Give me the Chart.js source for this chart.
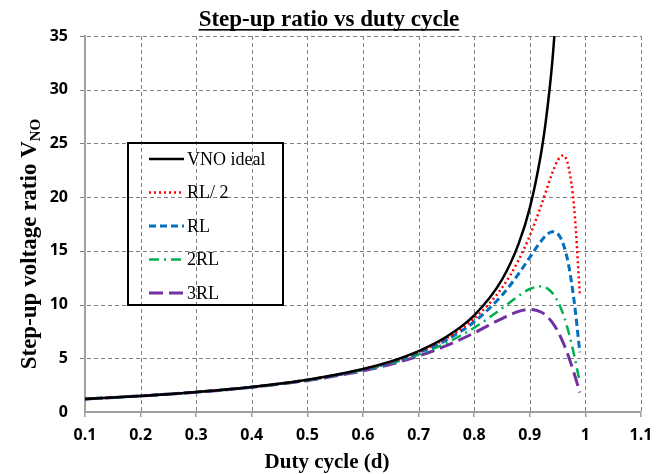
<!DOCTYPE html>
<html>
<head>
<meta charset="utf-8">
<script src="https://cdn.jsdelivr.net/npm/chart.js@4"></script>
<style>
  html, body { margin: 0; padding: 0; background: #fff; }
</style>
</head>
<body>
<canvas id="ratioChart" width="665" height="474"></canvas>
<script>
  // duty cycle values where the curves were read
  const dutyCycle = [0.1, 0.2, 0.3, 0.4, 0.5, 0.6, 0.65, 0.7, 0.75, 0.8, 0.85, 0.88, 0.9, 0.92, 0.93, 0.94, 0.95, 0.96, 0.97, 0.98, 0.99];

  // step-up ratio (ideal leaves the top of the plot near d = 0.945)
  const vnoIdeal = [1.22, 1.50, 1.86, 2.33, 3.00, 4.00, 4.71, 5.67, 7.00, 9.00, 12.33, 15.67, 19.00, 24.00, 27.57, 32.33, 39.00];
  const rlHalf = [1.22, 1.50, 1.85, 2.33, 2.99, 3.97, 4.67, 5.59, 6.85, 8.69, 11.56, 14.15, 16.41, 19.16, 20.68, 22.18, 23.41, 23.88, 22.73, 18.90, 10.95];
  const rlFull = [1.22, 1.50, 1.85, 2.32, 2.98, 3.94, 4.62, 5.51, 6.71, 8.40, 10.87, 12.87, 14.40, 15.89, 16.48, 16.79, 16.61, 15.67, 13.62, 10.22, 5.55];
  const rlDouble = [1.22, 1.49, 1.85, 2.31, 2.95, 3.89, 4.53, 5.35, 6.43, 7.84, 9.65, 10.82, 11.45, 11.70, 11.55, 11.11, 10.32, 9.10, 7.40, 5.24, 2.75];
  const rlTriple = [1.22, 1.49, 1.84, 2.30, 2.93, 3.83, 4.44, 5.21, 6.17, 7.36, 8.70, 9.37, 9.55, 9.31, 8.94, 8.37, 7.55, 6.46, 5.12, 3.55, 1.82];

  const seriesNames = ['VNO ideal', 'RL/ 2', 'RL', '2RL', '3RL'];
  const xTicks = [0.1, 0.2, 0.3, 0.4, 0.5, 0.6, 0.7, 0.8, 0.9, 1, 1.1];
  const yTicks = [0, 5, 10, 15, 20, 25, 30, 35];

  const pts = (vals) => vals.map((v, i) => ({ x: dutyCycle[i], y: v }));

  const lineBase = {
    pointRadius: 0,
    fill: false,
    cubicInterpolationMode: 'monotone'
  };

  const datasets = [
    { ...lineBase, label: seriesNames[0], data: pts(vnoIdeal), borderColor: '#000000', borderWidth: 2.5, borderDash: [] },
    { ...lineBase, label: seriesNames[1], data: pts(rlHalf), borderColor: '#ff0000', borderWidth: 2.5, borderDash: [2, 3] },
    { ...lineBase, label: seriesNames[2], data: pts(rlFull), borderColor: '#0070c0', borderWidth: 3, borderDash: [7, 4] },
    { ...lineBase, label: seriesNames[3], data: pts(rlDouble), borderColor: '#00b050', borderWidth: 2.5, borderDash: [10, 5, 2, 5] },
    { ...lineBase, label: seriesNames[4], data: pts(rlTriple), borderColor: '#7030a0', borderWidth: 3, borderDash: [14, 6] }
  ];

  // dashed grid, drawn from the scales' tick positions
  const dashedGrid = {
    id: 'dashedGrid',
    beforeDatasetsDraw(chart) {
      const { ctx, chartArea: a, scales: { x, y } } = chart;
      ctx.save();
      ctx.strokeStyle = '#7f7f7f';
      ctx.lineWidth = 1;
      ctx.setLineDash([4, 3]);
      xTicks.slice(1).forEach(v => {
        const px = Math.round(x.getPixelForValue(v)) + 0.5;
        ctx.beginPath();
        ctx.moveTo(px, a.top);
        ctx.lineTo(px, a.bottom);
        ctx.stroke();
      });
      yTicks.slice(1).forEach(v => {
        const py = Math.round(y.getPixelForValue(v)) + 0.5;
        ctx.beginPath();
        ctx.moveTo(a.left - 5, py);
        ctx.lineTo(a.right, py);
        ctx.stroke();
      });
      ctx.restore();
    }
  };

  // titles and the boxed legend inside the plot
  const titlesPlugin = {
    id: 'titlesPlugin',
    afterDraw(chart) {
      const ctx = chart.ctx;
      ctx.save();
      ctx.fillStyle = '#000';

      // main title, underlined
      const title = 'Step-up ratio vs duty cycle';
      ctx.font = 'bold 23px "Liberation Serif"';
      ctx.textAlign = 'center';
      ctx.textBaseline = 'alphabetic';
      ctx.fillText(title, 329, 26);
      const tw = ctx.measureText(title).width;
      ctx.fillRect(329 - tw / 2, 29, tw, 1.6);

      // x axis title
      ctx.font = 'bold 21px "Liberation Serif"';
      ctx.fillText('Duty cycle (d)', 327, 468);

      // y axis title with subscript
      ctx.save();
      ctx.translate(36, 244);
      ctx.rotate(-Math.PI / 2);
      const mainTxt = 'Step-up voltage ratio V';
      ctx.font = 'bold 23px "Liberation Serif"';
      const mw = ctx.measureText(mainTxt).width;
      ctx.font = 'bold 15px "Liberation Serif"';
      const sw = ctx.measureText('NO').width;
      const start = -(mw + sw) / 2;
      ctx.textAlign = 'left';
      ctx.font = 'bold 23px "Liberation Serif"';
      ctx.fillText(mainTxt, start, 0);
      ctx.font = 'bold 15px "Liberation Serif"';
      ctx.fillText('NO', start + mw, 4);
      ctx.restore();

      // legend box
      ctx.lineWidth = 2;
      ctx.strokeStyle = '#000';
      ctx.strokeRect(128, 143, 155, 162);
      ctx.font = '18px "Liberation Serif"';
      ctx.textAlign = 'left';
      ctx.textBaseline = 'middle';
      chart.data.datasets.forEach((ds, i) => {
        const y = 159 + i * 33.5;
        ctx.save();
        ctx.strokeStyle = ds.borderColor;
        ctx.lineWidth = ds.borderWidth;
        ctx.setLineDash(ds.borderDash);
        ctx.beginPath();
        ctx.moveTo(149, y);
        ctx.lineTo(184, y);
        ctx.stroke();
        ctx.restore();
        ctx.fillText(ds.label, 187, y + 1);
      });
      ctx.restore();
    }
  };

  const tickFont = { family: '"Open Sans"', size: 16, weight: 'bold' };

  const ratioChart = new Chart(document.getElementById('ratioChart'), {
    type: 'line',
    data: { datasets },
    options: {
      responsive: false,
      animation: false,
      layout: { padding: { top: 36, right: 24, left: 0, bottom: 0 } },
      plugins: {
        legend: { display: false },
        title: { display: false },
        tooltip: { enabled: false }
      },
      scales: {
        x: {
          type: 'linear',
          min: xTicks[0],
          max: xTicks[xTicks.length - 1],
          afterBuildTicks: (axis) => { axis.ticks = xTicks.map(v => ({ value: v })); },
          afterFit: (axis) => { axis.height = 62; },
          ticks: {
            font: tickFont,
            color: '#000',
            padding: 9,
            maxRotation: 0,
            callback: (v) => String(+v.toFixed(1))
          },
          grid: { drawOnChartArea: false, tickLength: 5, tickColor: '#a0a0a0', lineWidth: 1.5 },
          border: { color: '#a0a0a0', width: 2 }
        },
        y: {
          min: yTicks[0],
          max: yTicks[yTicks.length - 1],
          afterBuildTicks: (axis) => { axis.ticks = yTicks.map(v => ({ value: v })); },
          afterFit: (axis) => { axis.width = 85; },
          ticks: { font: tickFont, color: '#000', padding: 12 },
          grid: { drawOnChartArea: false, tickLength: 5, tickColor: 'rgba(0,0,0,0)' },
          border: { color: '#a0a0a0', width: 2 }
        }
      }
    },
    plugins: [dashedGrid, titlesPlugin]
  });
</script>
</body>
</html>
